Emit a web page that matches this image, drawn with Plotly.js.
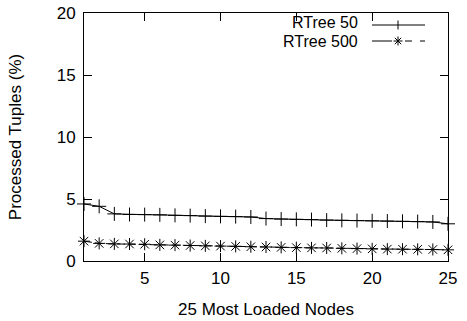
<!DOCTYPE html>
<html>
<head>
<meta charset="utf-8">
<script src="https://cdn.plot.ly/plotly-3.0.1.min.js"></script>
<style>html,body{margin:0;padding:0;background:#fff;}#chart{width:467px;height:321px;}</style>
</head>
<body>
<div id="chart"></div>
<script>
const nodes = [1,2,3,4,5,6,7,8,9,10,11,12,13,14,15,16,17,18,19,20,21,22,23,24,25];
const rtree50 = [4.6,4.41,3.8,3.75,3.74,3.72,3.68,3.66,3.62,3.6,3.58,3.55,3.42,3.38,3.36,3.34,3.3,3.28,3.26,3.24,3.22,3.2,3.18,3.15,3.0];
const rtree500 = [1.6,1.42,1.38,1.37,1.35,1.3,1.28,1.25,1.22,1.2,1.18,1.15,1.13,1.1,1.08,1.06,1.05,1.02,1.0,0.98,0.96,0.95,0.94,0.93,0.9];
const seriesNames = ["RTree 50", "RTree 500"];
const xTicks = [5,10,15,20,25];
const yTicks = [0,5,10,15,20];

const FONT = "Liberation Sans, Arial, Helvetica, sans-serif";

const traces = [
  {x: nodes, y: rtree50, name: seriesNames[0], mode: "lines+markers",
   line: {color: "#000", width: 1},
   marker: {symbol: "cross-thin-open", size: 10, color: "#000", line: {color: "#000", width: 1}},
   showlegend: false, cliponaxis: false},
  {x: nodes, y: rtree500, name: seriesNames[1], mode: "lines+markers",
   line: {color: "#000", width: 1, dash: "8px,3px"},
   marker: {symbol: "asterisk-open", size: 10, color: "#000", line: {color: "#000", width: 1}},
   showlegend: false, cliponaxis: false}
];

// plot area pixel geometry for the hand-drawn gnuplot style key
const L = 84, R = 448, T = 13, B = 261;
const px = v => (v - L) / (R - L);
const py = v => (B - v) / (B - T);

const shapes = [];
const annotations = [];
// key row 1
annotations.push({xref: "paper", yref: "paper", x: px(359), y: py(22.5), xanchor: "right", yanchor: "middle",
  text: seriesNames[0], showarrow: false, borderpad: 0, font: {family: FONT, size: 16, color: "#000"}});
shapes.push({type: "line", xref: "paper", yref: "paper", x0: px(372), x1: px(425), y0: py(25), y1: py(25), line: {color: "#000", width: 1}});
shapes.push({type: "line", xref: "paper", yref: "paper", x0: px(398), x1: px(398), y0: py(20.5), y1: py(29.5), line: {color: "#000", width: 1}});
// key row 2
annotations.push({xref: "paper", yref: "paper", x: px(359), y: py(41.5), xanchor: "right", yanchor: "middle",
  text: seriesNames[1], showarrow: false, borderpad: 0, font: {family: FONT, size: 16, color: "#000"}});
shapes.push({type: "line", xref: "paper", yref: "paper", x0: px(372), x1: px(425), y0: py(41), y1: py(41), line: {color: "#000", width: 1, dash: "20px,6px,1px,6px,7px,8px"}});
const c = 398, cy = 41, a = 4.5, d = 3.2;
shapes.push({type: "line", xref: "paper", yref: "paper", x0: px(c - a), x1: px(c + a), y0: py(cy), y1: py(cy), line: {color: "#000", width: 1}});
shapes.push({type: "line", xref: "paper", yref: "paper", x0: px(c), x1: px(c), y0: py(cy - a), y1: py(cy + a), line: {color: "#000", width: 1}});
shapes.push({type: "line", xref: "paper", yref: "paper", x0: px(c - d), x1: px(c + d), y0: py(cy - d), y1: py(cy + d), line: {color: "#000", width: 1}});
shapes.push({type: "line", xref: "paper", yref: "paper", x0: px(c - d), x1: px(c + d), y0: py(cy + d), y1: py(cy - d), line: {color: "#000", width: 1}});

const layout = {
  width: 467, height: 321,
  margin: {l: L, r: 467 - R, t: T, b: 321 - B},
  paper_bgcolor: "#fff", plot_bgcolor: "#fff",
  showlegend: false,
  font: {family: FONT, size: 16, color: "#000"},
  xaxis: {
    range: [1, 25], tickvals: xTicks, ticktext: xTicks.map(String),
    ticks: "inside", ticklen: 8, tickwidth: 1, tickcolor: "#000",
    showline: true, linecolor: "#000", linewidth: 1, mirror: "allticks",
    showgrid: false, zeroline: false, ticklabelstandoff: 2,
    tickfont: {family: FONT, size: 17, color: "#000"},
    title: {text: "25 Most Loaded Nodes", font: {family: FONT, size: 17, color: "#000"}, standoff: 15}
  },
  yaxis: {
    range: [0, 20], tickvals: yTicks, ticktext: yTicks.map(String),
    ticks: "inside", ticklen: 8, tickwidth: 1, tickcolor: "#000",
    showline: true, linecolor: "#000", linewidth: 1, mirror: "allticks",
    showgrid: false, zeroline: false, ticklabelstandoff: 4,
    tickfont: {family: FONT, size: 17, color: "#000"},
    title: {text: "Processed Tuples (%)", font: {family: FONT, size: 17, color: "#000"}, standoff: 30}
  },
  shapes: shapes,
  annotations: annotations
};

Plotly.newPlot("chart", traces, layout, {displayModeBar: false, staticPlot: true});
</script>
</body>
</html>
